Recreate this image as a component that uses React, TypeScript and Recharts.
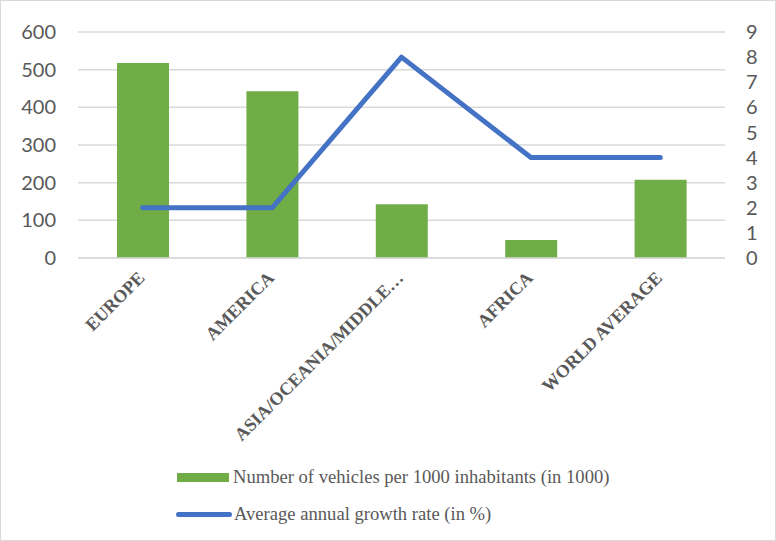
import { Bar, CartesianGrid, ComposedChart, Line, XAxis, YAxis } from "recharts";

const categories = ["EUROPE", "AMERICA", "ASIA/OCEANIA/MIDDLE…", "AFRICA", "WORLD AVERAGE"];
const vehicles = [518, 443, 143, 48, 208];
const growth = [2, 2, 8, 4, 4];
const leftTicks = [0, 100, 200, 300, 400, 500, 600];
const rightTicks = [0, 1, 2, 3, 4, 5, 6, 7, 8, 9];

const GREEN = "#70AD47";
const BLUE = "#4472C4";
const GRID = "#D9D9D9";
const TEXT = "#595959";

const data = categories.map((name, i) => ({
  name,
  vehicles: vehicles[i],
  growth: growth[i],
}));

const CategoryTick = (props: any) => {
  const { x, y, payload } = props;
  return (
    <g transform={`translate(${x + 3},${y + 13}) rotate(-45)`}>
      <text
        x={0}
        y={0}
        textAnchor="end"
        fill={TEXT}
        fontFamily="'Liberation Serif', 'Times New Roman', serif"
        fontWeight="bold"
        fontSize={18}
      >
        {payload.value}
      </text>
    </g>
  );
};

const tickFont = { fill: TEXT, fontSize: 20, fontFamily: "Lato, sans-serif" };

export default function App() {
  return (
    <div
      style={{
        position: "absolute",
        top: 0,
        left: 0,
        width: 776,
        height: 541,
        boxSizing: "border-box",
        border: `1px solid ${GRID}`,
        background: "#fff",
      }}
    >
      <ComposedChart
        width={774}
        height={539}
        data={data}
        margin={{ top: 31, right: 0, bottom: 0, left: 0 }}
      >
        <CartesianGrid vertical={false} stroke={GRID} strokeWidth={1.5} yAxisId="left" />
        <XAxis
          dataKey="name"
          height={282}
          interval={0}
          tickLine={false}
          axisLine={{ stroke: GRID, strokeWidth: 1.5 }}
          tick={<CategoryTick />}
        />
        <YAxis
          yAxisId="left"
          orientation="left"
          width={77}
          domain={[0, 600]}
          ticks={leftTicks}
          interval={0}
          tickLine={false}
          axisLine={false}
          tickMargin={16}
          tick={tickFont}
        />
        <YAxis
          yAxisId="right"
          orientation="right"
          width={50}
          domain={[0, 9]}
          ticks={rightTicks}
          interval={0}
          tickLine={false}
          axisLine={false}
          tickMargin={15}
          tick={{ ...tickFont, textAnchor: "start" }}
        />
        <Bar yAxisId="left" dataKey="vehicles" fill={GREEN} barSize={52} isAnimationActive={false} />
        <Line
          yAxisId="right"
          type="linear"
          dataKey="growth"
          stroke={BLUE}
          strokeWidth={5}
          strokeLinecap="round"
          strokeLinejoin="round"
          dot={false}
          activeDot={false}
          isAnimationActive={false}
        />
      </ComposedChart>
      <div
        style={{
          position: "absolute",
          left: 175,
          top: 462,
          fontFamily: "'Liberation Serif', 'Times New Roman', serif",
          fontSize: 18.6,
          color: TEXT,
          lineHeight: "20px",
        }}
      >
        <div style={{ display: "flex", alignItems: "center", height: 28 }}>
          <span style={{ display: "inline-block", width: 52, height: 9, background: GREEN, marginLeft: 1, marginRight: 4 }} />
          Number of vehicles per 1000 inhabitants (in 1000)
        </div>
        <div style={{ display: "flex", alignItems: "center", height: 46 }}>
          <span
            style={{
              display: "inline-block",
              width: 56,
              height: 5,
              borderRadius: 3,
              background: BLUE,
              marginRight: 2,
            }}
          />
          Average annual growth rate (in %)
        </div>
      </div>
    </div>
  );
}
